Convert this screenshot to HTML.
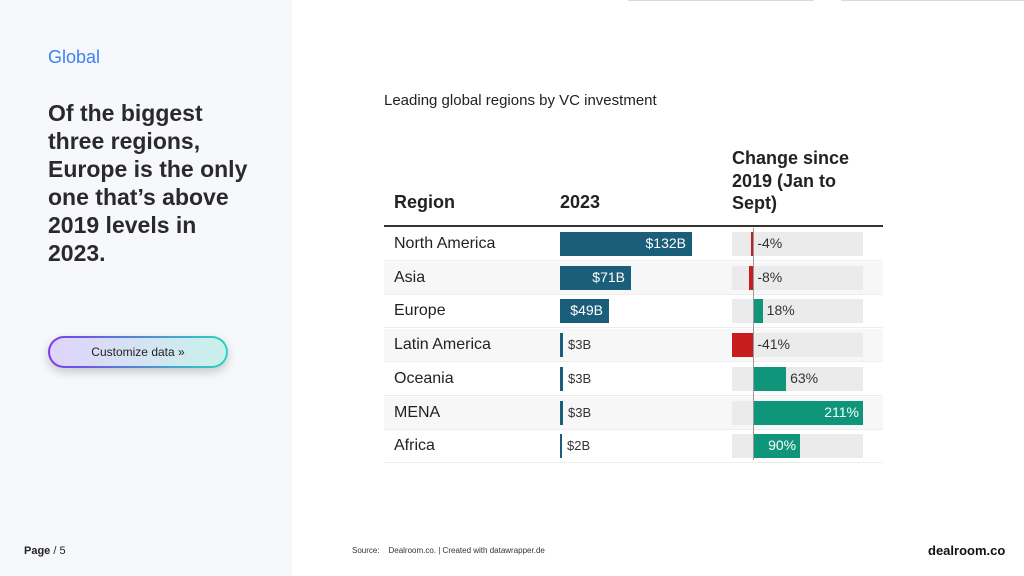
<!DOCTYPE html>
<html><head><meta charset="utf-8"><style>
body{margin:0;width:1024px;height:576px;position:relative;background:#fff;font-family:"Liberation Sans",sans-serif;overflow:hidden;color:#222}
.abs{position:absolute}
</style></head><body>
<div class="abs" style="left:0;top:0;width:292px;height:576px;background:#f7f8fc"></div>
<div class="abs" style="left:628px;top:0;width:186px;height:1px;background:#cfe3c8"></div>
<div class="abs" style="left:841px;top:0;width:183px;height:1px;background:#cfe3c8"></div>
<div class="abs" style="left:48px;top:47px;font-size:18px;color:#3b82f6">Global</div>
<div class="abs" style="left:48px;top:99px;white-space:nowrap;font-size:23px;line-height:28px;font-weight:bold;color:#2a2a2a">Of the biggest<br>three regions,<br>Europe is the only<br>one that’s above<br>2019 levels in<br>2023.</div>
<div class="abs" style="left:48px;top:336px;width:180px;height:32px;border-radius:16px;padding:2px;box-sizing:border-box;background:linear-gradient(90deg,#7c3aed,#2dd4bf);box-shadow:0 4px 10px rgba(0,0,0,0.2)"><div style="width:100%;height:100%;border-radius:14px;background:linear-gradient(90deg,#e0d4fb,#c9f1ec);font-size:12px;line-height:28px;text-align:center;color:#222">Customize data »</div></div>
<div class="abs" style="left:24px;top:545px;font-size:11px;color:#222"><b>Page</b> / 5</div>
<div class="abs" style="left:352px;top:546px;font-size:8px;color:#333">Source:&nbsp;&nbsp;&nbsp;&nbsp;Dealroom.co. | Created with datawrapper.de</div>
<div class="abs" style="left:928px;top:543px;font-size:13px;font-weight:bold;color:#111">dealroom.co</div>
<div class="abs" style="left:384px;top:92px;font-size:15px;color:#222">Leading global regions by VC investment</div>
<div class="abs" style="left:394px;top:192px;font-size:18px;font-weight:bold">Region</div>
<div class="abs" style="left:560px;top:192px;font-size:18px;font-weight:bold">2023</div>
<div class="abs" style="left:732px;top:147px;font-size:18px;font-weight:bold;line-height:22.5px">Change since<br>2019 (Jan to<br>Sept)</div>
<div class="abs" style="left:384px;top:225px;width:499px;height:2px;background:#333"></div>
<div id="rows"></div>
<script>
const regions=["North America","Asia","Europe","Latin America","Oceania","MENA","Africa"];
const invest=[132,71,49,3,3,3,2];
const change=[-4,-8,18,-41,63,211,90];
const root=document.getElementById('rows');
const rowTop=i=>227+i*33.7;
const xInv=v=>v*1.0;
const cMin=-41,cMax=211,cL=732,cR=863;
const xC=v=>cL+(v-cMin)/(cMax-cMin)*(cR-cL);
function mk(css,txt){const d=document.createElement('div');d.className='abs';d.style.cssText=css;if(txt!==undefined)d.textContent=txt;root.appendChild(d);return d;}
regions.forEach((r,i)=>{
  const t=rowTop(i);
  if(i%2==1){const b=mk(`left:384px;top:${t+1}px;width:499px;height:32px;background:#f7f7f7`);
  
  }
  const sep=mk(`left:384px;top:${t+33}px;width:499px;height:1px;background:#eee`);
  
  
  const l=mk(`left:394px;top:${t+8}px;font-size:16px;color:#222`,r);
  
  
  const w=Math.max(2,xInv(invest[i]));
  const bar=mk(`left:560px;top:${t+5}px;width:${w}px;height:24px;background:#1b5e79`);
  
  
  const txt='$'+invest[i]+'B';
  if(w>40){const v=mk(`left:560px;top:${t+8}px;width:${w-6}px;text-align:right;font-size:14px;color:#fff`,txt);
  
  }
  else{const v=mk(`left:${560+w+5}px;top:${t+9}px;font-size:13px;color:#333`,txt);
  
  }
  const bg=mk(`left:${cL}px;top:${t+5}px;width:${cR-cL}px;height:24px;background:#ebebeb`);
  
  
  const c=change[i],x0=xC(0),x1=xC(c);
  const cb=mk(`left:${Math.min(x0,x1)}px;top:${t+5}px;width:${Math.abs(x1-x0)}px;height:24px;background:${c<0?'#c71e1d':'#0f957a'}`);
  
  
  const ct=c+'%';
  let cv;
  if(c>80){cv=mk(`left:${x0}px;top:${t+8}px;width:${x1-x0-4}px;text-align:right;font-size:14px;color:#fff`,ct);}
  else{cv=mk(`left:${Math.max(x0,x1)+4}px;top:${t+8}px;font-size:14px;color:#333`,ct);}
  
  
});
const z=mk(`left:${xC(0)}px;top:228px;width:1px;height:232px;background:#999`);


</script>
</body></html>
